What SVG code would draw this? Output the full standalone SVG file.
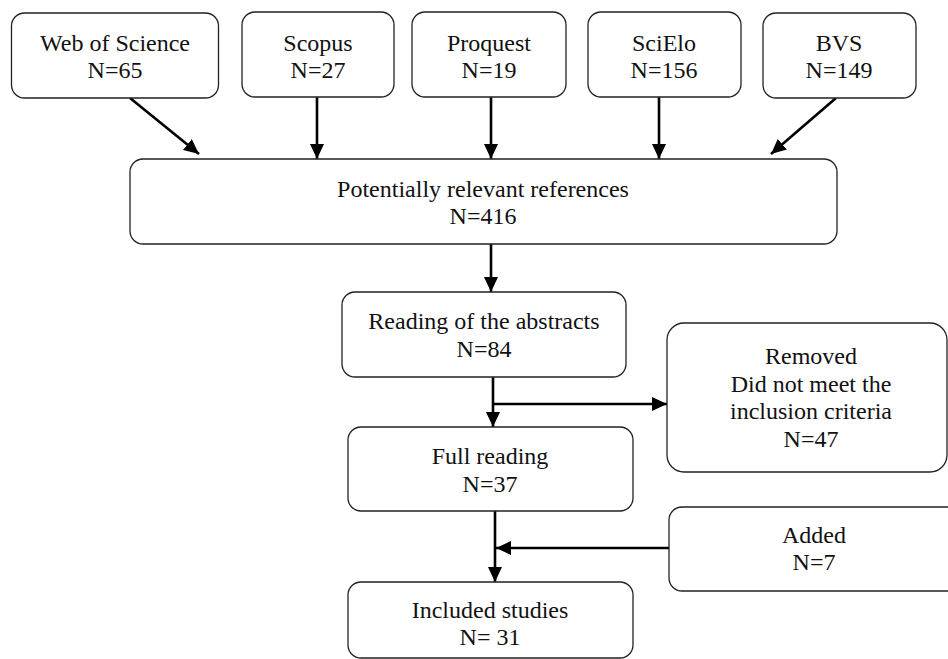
<svg xmlns="http://www.w3.org/2000/svg" width="948" height="659" viewBox="0 0 948 659">
<defs>
<style>
.box{fill:#fff;stroke:#222;stroke-width:1.3}
text{font-family:"Liberation Serif","Times New Roman",serif;font-size:24px;fill:#111;text-anchor:middle}
.c{fill:none;stroke:#000;stroke-width:2.6}
</style>
<marker id="ah" markerUnits="userSpaceOnUse" markerWidth="16" markerHeight="15" refX="15" refY="7" orient="auto">
<path d="M0,0 L15,7 L0,14 z" fill="#000"/>
</marker>
</defs>
<rect width="948" height="659" fill="#fff"/>
<g id="connectors">
<line class="c" x1="130" y1="98" x2="199" y2="154" marker-end="url(#ah)"/>
<line class="c" x1="317" y1="97" x2="317" y2="159" marker-end="url(#ah)"/>
<line class="c" x1="491" y1="97" x2="491" y2="159" marker-end="url(#ah)"/>
<line class="c" x1="659" y1="97" x2="659" y2="159" marker-end="url(#ah)"/>
<line class="c" x1="836" y1="98" x2="771" y2="154" marker-end="url(#ah)"/>
<line class="c" x1="491" y1="244" x2="491" y2="292" marker-end="url(#ah)"/>
<line class="c" x1="493" y1="377" x2="493" y2="427" marker-end="url(#ah)"/>
<line class="c" x1="493" y1="404" x2="667" y2="404" marker-end="url(#ah)"/>
<line class="c" x1="495" y1="511" x2="495" y2="582" marker-end="url(#ah)"/>
<line class="c" x1="669" y1="548" x2="496" y2="548" marker-end="url(#ah)"/>
</g>
<g id="wos"><rect class="box" x="11.5" y="13" width="207" height="85" rx="13"/><text x="115" y="51">Web of Science</text><text x="115" y="78">N=65</text></g>
<g id="scopus"><rect class="box" x="242" y="12" width="152" height="85" rx="13"/><text x="318" y="51">Scopus</text><text x="318" y="78">N=27</text></g>
<g id="proquest"><rect class="box" x="412" y="12" width="154" height="85" rx="13"/><text x="489" y="51">Proquest</text><text x="489" y="78">N=19</text></g>
<g id="scielo"><rect class="box" x="588" y="12" width="153" height="85" rx="13"/><text x="664" y="51">SciElo</text><text x="664" y="78">N=156</text></g>
<g id="bvs"><rect class="box" x="763" y="13" width="153" height="85" rx="13"/><text x="839" y="51">BVS</text><text x="839" y="78">N=149</text></g>
<g id="potential"><rect class="box" x="130" y="159" width="707" height="85" rx="13"/><text x="483" y="197">Potentially relevant references</text><text x="483" y="224">N=416</text></g>
<g id="abstracts"><rect class="box" x="342" y="292" width="284" height="85" rx="13"/><text x="484" y="329">Reading of the abstracts</text><text x="484" y="357">N=84</text></g>
<g id="removed"><rect class="box" x="667" y="323" width="280" height="149" rx="17"/><text x="811" y="364">Removed</text><text x="811" y="392">Did not meet the</text><text x="811" y="419">inclusion criteria</text><text x="811" y="447">N=47</text></g>
<g id="full"><rect class="box" x="348" y="427" width="285" height="84" rx="13"/><text x="490" y="464">Full reading</text><text x="490" y="492">N=37</text></g>
<g id="added"><rect class="box" x="669" y="507" width="295" height="84" rx="13"/><text x="814" y="543">Added</text><text x="814" y="570">N=7</text></g>
<g id="included"><rect class="box" x="348" y="582" width="285" height="76" rx="13"/><text x="490" y="618">Included studies</text><text x="490" y="645">N= 31</text></g>
</svg>
